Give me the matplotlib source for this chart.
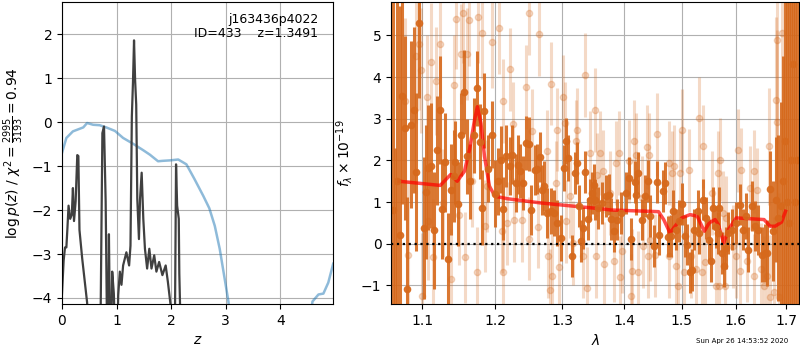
import matplotlib
matplotlib.use('Agg')
import matplotlib.pyplot as plt
import numpy as np
from matplotlib.ticker import NullLocator, NullFormatter

# ---- left panel: log p(z) and scaled chi2 ----
z_pz = [0.0, 0.03, 0.055, 0.08, 0.10, 0.12, 0.15, 0.18, 0.20, 0.22, 0.25, 0.28, 0.30,
        0.32, 0.37, 0.46, 0.50, 0.68, 0.71, 0.74, 0.77, 0.80, 0.82, 0.84, 0.86, 0.89,
        0.92, 0.95, 1.00, 1.03, 1.06, 1.09, 1.12, 1.18, 1.23, 1.255, 1.28, 1.30, 1.32,
        1.34, 1.36, 1.38, 1.41, 1.43, 1.46, 1.49, 1.52, 1.56, 1.60, 1.64, 1.69, 1.73,
        1.78, 1.84, 1.90, 1.94, 1.99, 2.02, 2.07, 2.09, 2.11, 2.14, 2.15, 2.17, 2.20]
logpz = [-3.9, -3.15, -2.85, -2.85, -2.4, -1.9, -2.2, -2.1, -1.5, -2.25, -1.8, -0.75, -0.77,
         -2.45, -3.1, -4.1, -5.0, -6.0, -4.1, -0.25, -0.1, -1.8, -4.1, -6.0, -2.55, -6.0,
         -3.4, -3.9, -6.0, -3.94, -3.4, -3.7, -3.26, -2.96, -3.26, -2.81, 0.13, 0.88, 1.86,
         0.95, 0.4, -1.75, -2.66, -1.75, -1.15, -2.2, -2.88, -3.33, -2.88, -3.33, -3.03, -3.4,
         -3.18, -3.48, -3.26, -3.63, -4.16, -6.0, -4.5, -0.96, -1.9, -2.2, -3.45, -4.5, -6.0]

z_chi = [0.0, 0.08, 0.2, 0.39, 0.46, 0.57, 0.69, 0.81, 0.97, 1.12, 1.30, 1.49, 1.61, 1.76,
         1.85, 1.98, 2.13, 2.28, 2.43, 2.59, 2.70, 2.80, 2.89, 2.97, 3.05, 3.2, 4.4, 4.59,
         4.70, 4.79, 4.88, 4.97]
chi_scaled = [-0.7, -0.36, -0.21, -0.12, -0.02, -0.06, -0.07, -0.12, -0.2, -0.36, -0.49,
              -0.64, -0.74, -0.89, -0.88, -0.87, -0.85, -0.96, -1.3, -1.68, -1.96, -2.36,
              -2.88, -3.48, -4.08, -6.0, -6.0, -4.08, -3.92, -3.9, -3.65, -3.22]

# ---- right panel: spectrum ----
wave_a = [1.062, 1.065, 1.068, 1.071, 1.074, 1.077, 1.080, 1.085, 1.089, 1.092, 1.096, 1.102,
          1.105, 1.108, 1.111, 1.116, 1.119, 1.123, 1.126, 1.130, 1.134, 1.138, 1.142, 1.144,
          1.148, 1.152, 1.157, 1.161, 1.165, 1.170, 1.1745, 1.178, 1.181, 1.185, 1.190, 1.195,
          1.200, 1.205, 1.208, 1.212, 1.216, 1.222, 1.224, 1.230, 1.233, 1.237, 1.241, 1.245,
          1.249, 1.253, 1.258, 1.262, 1.267, 1.269, 1.272, 1.277, 1.283, 1.288, 1.292, 1.298,
          1.303, 1.306, 1.310, 1.316, 1.320, 1.323, 1.327, 1.330, 1.333, 1.337, 1.341, 1.344,
          1.348, 1.350, 1.353, 1.357, 1.364, 1.370, 1.375, 1.378, 1.384, 1.389, 1.395, 1.403,
          1.408, 1.412, 1.418, 1.421, 1.424, 1.430, 1.435, 1.441, 1.445, 1.451, 1.456, 1.460,
          1.466, 1.470, 1.475, 1.480, 1.484, 1.490, 1.495, 1.500, 1.505, 1.509, 1.515, 1.518,
          1.523, 1.529, 1.532, 1.538, 1.544, 1.549, 1.553, 1.557, 1.562, 1.566, 1.569, 1.573,
          1.578, 1.581, 1.586, 1.593, 1.600, 1.608, 1.613, 1.619, 1.624, 1.631, 1.637, 1.644,
          1.650, 1.657, 1.661, 1.667, 1.672, 1.678, 1.683, 1.689, 1.693, 1.697, 1.702, 1.706,
          1.709, 1.713, 1.718, 1.722]
flux_a = [0.8, -2.0, 1.5, 0.2, 3.55, 2.78, -1.09, 2.86, 3.21, 1.72, 5.29, 0.37,
          1.24, 1.82, 1.87, 0.32, 2.24, 3.21, 0.84, 1.95, -0.36, 1.30, 1.62, 1.95,
          0.95, 2.62, 3.64, 2.10, 1.50, 2.60, 3.73, 2.45, 0.86, 3.19, 1.80, 2.62,
          1.20, 1.50, 2.02, 0.84, 2.11, 1.86, 2.14, 1.46, 1.90, 1.74, 1.46, 2.42,
          2.40, 0.82, 1.78, 1.79, 2.08, 1.30, 1.38, 0.74, 0.78, 0.74, 0.50, 0.14,
          1.82, 2.46, 2.06, -0.30, 1.70, 1.94, 0.90, 0.06, 0.38, 1.72, 0.60, 1.06,
          1.22, 1.42, 1.06, 0.86, 0.98, 1.14, 1.18, 0.60, 0.30, 0.58, 0.74, 1.22,
          1.58, 0.12, 1.48, 1.18, 1.70, 0.58, 1.14, 1.50, 0.66, -0.06, 1.48, 0.22,
          1.26, 1.46, 0.17, 0.18, 0.78, 0.34, 0.54, 0.96, 0.18, -0.02, -0.69, -0.63,
          0.34, 0.78, 0.26, 1.06, 0.62, 0.10, -0.41, 0.86, 0.40, 0.26, 0.86, -0.22,
          -0.53, -0.10, 0.26, 0.34, 0.50, 0.94, 0.34, 0.66, -0.14, 0.90, 0.42, 0.34,
          -0.26, -0.23, -0.22, 1.32, 0.30, 1.06, 0.62, 0.90, 1.50, 2.47, 1.0, 0.5,
          2.0, 4.31, 1.0, 2.0]
err_a = [6.0, 4.3, 6.0, 5.5, 2.6, 2.2, 2.2, 2.0, 2.0, 1.9, 1.8, 1.7,
         1.6, 1.5, 1.5, 1.4, 1.3, 1.3, 1.2, 1.2, 1.1, 1.1, 1.1, 1.0,
         1.0, 1.0, 1.0, 0.9, 0.9, 0.9, 0.9, 0.9, 0.9, 0.9, 0.8, 0.8,
         0.8, 0.8, 0.8, 0.75, 0.75, 0.7, 0.7, 0.7, 0.7, 0.65, 0.65, 0.65,
         0.65, 0.6, 0.6, 0.6, 0.6, 0.6, 0.6, 0.6, 0.55, 0.55, 0.55, 0.55,
         0.55, 0.55, 0.55, 0.5, 0.5, 0.5, 0.5, 0.5, 0.5, 0.5, 0.5, 0.5,
         0.5, 0.5, 0.5, 0.5, 0.5, 0.5, 0.5, 0.5, 0.5, 0.5, 0.5, 0.5,
         0.5, 0.5, 0.5, 0.5, 0.5, 0.5, 0.5, 0.5, 0.5, 0.5, 0.5, 0.5,
         0.5, 0.5, 0.5, 0.5, 0.5, 0.5, 0.5, 0.5, 0.5, 0.5, 0.5, 0.5,
         0.5, 0.5, 0.5, 0.5, 0.5, 0.5, 0.5, 0.5, 0.5, 0.5, 0.5, 0.5,
         0.5, 0.5, 0.5, 0.5, 0.5, 0.5, 0.5, 0.55, 0.55, 0.6, 0.6, 0.6,
         0.65, 0.7, 0.8, 0.9, 1.2, 1.5, 2.0, 2.5, 3.0, 4.0, 5.0, 6.0,
         6.0, 6.0, 7.0, 7.0]

wave_b = [1.077, 1.081, 1.092, 1.096, 1.099, 1.100, 1.106, 1.108, 1.111, 1.114, 1.118, 1.123,
          1.128, 1.138, 1.142, 1.145, 1.150, 1.152, 1.155, 1.158, 1.160, 1.163, 1.168, 1.175,
          1.176, 1.182, 1.186, 1.188, 1.196, 1.206, 1.210, 1.211, 1.212, 1.217, 1.221, 1.226,
          1.227, 1.239, 1.245, 1.249, 1.250, 1.254, 1.264, 1.265, 1.277, 1.279, 1.281, 1.283,
          1.285, 1.290, 1.293, 1.295, 1.302, 1.305, 1.306, 1.312, 1.317, 1.322, 1.324, 1.333,
          1.336, 1.340, 1.344, 1.352, 1.354, 1.356, 1.360, 1.365, 1.367, 1.376, 1.383, 1.387,
          1.392, 1.394, 1.397, 1.408, 1.411, 1.414, 1.416, 1.421, 1.423, 1.430, 1.432, 1.439,
          1.441, 1.442, 1.445, 1.453, 1.457, 1.477, 1.478, 1.482, 1.486, 1.489, 1.494, 1.496,
          1.501, 1.504, 1.513, 1.516, 1.525, 1.532, 1.537, 1.539, 1.543, 1.555, 1.563, 1.567,
          1.568, 1.570, 1.575, 1.580, 1.581, 1.595, 1.601, 1.605, 1.608, 1.611, 1.621, 1.628,
          1.635, 1.636, 1.641, 1.648, 1.655, 1.660, 1.665, 1.666, 1.675, 1.678, 1.680, 1.681,
          1.685, 1.691]
flux_b = [3.43, -0.26, 4.50, 4.80, 4.17, -1.25, 3.52, 0.54, 4.37, -0.33, 3.90, 4.80,
          0.98, -0.85, 3.80, 5.40, 0.70, 4.56, 5.53, -0.33, 4.56, 5.37, 1.50, -0.69,
          5.45, 5.05, 0.42, 1.38, 4.85, 5.17, 0.30, -0.69, 3.43, 0.49, 4.19, 2.88,
          0.57, 0.57, 3.76, 5.53, 0.12, 2.71, 0.41, 5.03, 2.22, -0.30, -1.12, 3.84,
          -0.77, 1.46, 2.74, -0.57, 3.53, 2.89, 0.54, 1.14, 0.02, 2.46, 2.74, -0.30,
          4.05, -1.07, 2.19, 3.21, -0.30, 1.66, 2.18, 1.74, -0.49, 1.22, -0.41, 1.94,
          2.18, -0.81, -0.18, 1.98, -1.25, -0.65, 2.46, 2.14, -0.69, 1.10, -0.06, 2.32,
          -0.30, 2.14, 0.10, -0.28, 2.63, 1.94, -0.30, 1.70, 1.86, -0.53, -1.01, 1.70,
          2.72, -0.69, 1.76, -0.30, -0.61, 3.01, -0.69, 2.34, -0.45, 1.22, -1.01, 1.70,
          -1.01, 2.02, 0.74, -1.01, 0.62, -0.06, -0.30, 2.24, -0.65, 1.78, -0.41, 1.34,
          1.74, -0.77, 1.30, -0.61, -1.01, -0.77, 2.34, -1.29, -1.17, 3.45, 2.93, 4.90,
          -1.29, 5.05]
err_b = [2.0, 1.8, 1.6, 1.6, 1.5, 1.5, 1.5, 1.4, 1.4, 1.4, 1.3, 1.3,
         1.3, 1.2, 1.2, 1.2, 1.2, 1.2, 1.2, 1.1, 1.1, 1.1, 1.1, 1.1,
         1.1, 1.1, 1.1, 1.1, 1.1, 1.1, 1.0, 1.0, 1.0, 1.0, 1.0, 1.0,
         1.0, 1.0, 1.0, 1.0, 1.0, 1.0, 1.0, 1.0, 1.0, 1.0, 1.0, 1.0,
         1.0, 1.0, 1.0, 1.0, 1.0, 1.0, 1.0, 1.0, 1.0, 1.0, 1.0, 1.0,
         1.0, 1.0, 1.0, 1.0, 1.0, 1.0, 1.0, 1.0, 1.0, 1.0, 1.0, 1.0,
         1.0, 1.0, 1.0, 1.0, 1.0, 1.0, 1.0, 1.0, 1.0, 1.0, 1.0, 1.0,
         1.0, 1.0, 1.0, 1.0, 1.0, 1.0, 1.0, 1.0, 1.0, 1.0, 1.0, 1.0,
         1.0, 1.0, 1.0, 1.0, 1.0, 1.0, 1.0, 1.0, 1.0, 1.0, 1.0, 1.0,
         1.0, 1.0, 1.0, 1.0, 1.0, 1.0, 1.0, 1.0, 1.0, 1.0, 1.0, 1.0,
         1.0, 1.0, 1.0, 1.1, 1.2, 1.3, 1.4, 1.5, 1.8, 2.0, 2.2, 2.5,
         2.5, 3.0]

wave_model = [1.070, 1.124, 1.138, 1.147, 1.157, 1.164, 1.171, 1.175, 1.180, 1.185, 1.192,
              1.200, 1.218, 1.267, 1.319, 1.362, 1.378, 1.459, 1.468, 1.479, 1.488, 1.500,
              1.515, 1.528, 1.541, 1.550, 1.561, 1.567, 1.577, 1.586, 1.601, 1.655, 1.667,
              1.677, 1.690, 1.698]
flux_model = [1.50, 1.40, 1.66, 1.50, 1.74, 2.26, 2.97, 3.29, 2.89, 2.10, 1.38,
              1.14, 1.08, 0.98, 0.90, 0.84, 0.81, 0.77, 0.58, 0.26, 0.42, 0.62,
              0.70, 0.66, 0.30, 0.50, 0.58, 0.46, 0.02, 0.34, 0.62, 0.58, 0.42,
              0.42, 0.52, 0.78]

wave_ticks = [1.1, 1.2, 1.3, 1.4, 1.5, 1.6, 1.7]
spec_color = '#d6691c'

fig = plt.figure(figsize=(8, 3.5), dpi=100)

ax1 = fig.add_axes([0.0775, 0.131, 0.339, 0.863])
ax1.plot(z_chi, chi_scaled, color='#1f77b4', alpha=0.5, lw=1.8)
ax1.plot(z_pz, logpz, color='0.25', lw=1.6)
ax1.set_xlim(0, 4.97)
ax1.set_ylim(-4.14, 2.73)
ax1.set_xticks([0, 1, 2, 3, 4])
ax1.set_yticks([-4, -3, -2, -1, 0, 1, 2])
ax1.grid(True)
ax1.set_xlabel(r'$z$')
ax1.set_ylabel(r'$\log p(z)$ / $\chi^2=\frac{2995}{3193}=0.94$')
ax1.text(0.945, 0.965, 'j163436p4022\nID=433    z=1.3491', transform=ax1.transAxes,
         ha='right', va='top', fontsize=9, linespacing=1.15)

ax2 = fig.add_axes([0.489, 0.131, 0.51, 0.863])
ax2.set_xscale('log')
ax2.errorbar(wave_b, flux_b, yerr=err_b, marker='o', ms=4.5, ls='none', color=spec_color,
             alpha=0.25, elinewidth=2.2, capsize=0)
ax2.errorbar(wave_a, flux_a, yerr=err_a, marker='o', ms=4.5, ls='none', color=spec_color,
             alpha=0.9, elinewidth=2.2, capsize=0)
ax2.plot(wave_model, flux_model, color='red', alpha=0.7, lw=2.5)
ax2.plot([1.06, 1.726], [0, 0], color='k', ls=':', lw=1.6)
ax2.set_xlim(1.06, 1.726)
ax2.set_ylim(-1.45, 5.8)
ax2.set_xticks(wave_ticks)
ax2.set_xticklabels(['%.1f' % w for w in wave_ticks])
ax2.xaxis.set_minor_locator(NullLocator())
ax2.xaxis.set_minor_formatter(NullFormatter())
ax2.set_yticks([-1, 0, 1, 2, 3, 4, 5])
ax2.grid(True)
ax2.set_xlabel(r'$\lambda$')
ax2.set_ylabel(r'$f_\lambda\times10^{-19}$')

fig.text(0.985, 0.027, 'Sun Apr 26 14:53:52 2020', ha='right', va='center', fontsize=5)

plt.savefig('out.png')
